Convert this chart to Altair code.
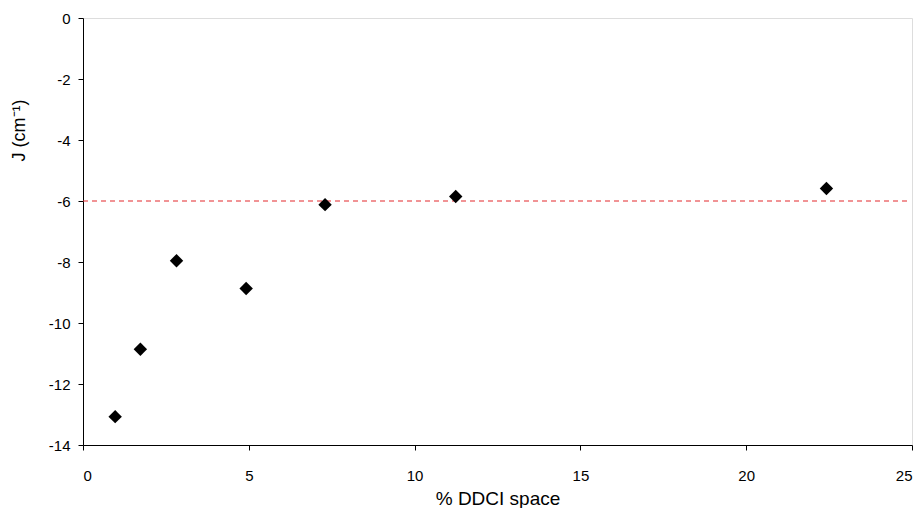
import altair as alt
import pandas as pd

ddci_pct = [0.97, 1.73, 2.82, 4.92, 7.30, 11.24, 22.42]
j_values = [-13.07, -10.86, -7.96, -8.87, -6.12, -5.85, -5.59]
ref_j = [-6.0]
ref_x_start = [0.0]
ref_x_end = [24.85]
x_ticks = [0, 5, 10, 15, 20, 25]
y_ticks = [0, -2, -4, -6, -8, -10, -12, -14]

pts = pd.DataFrame({"x": ddci_pct, "y": j_values})
ref = pd.DataFrame({"x": ref_x_start, "x2": ref_x_end, "y": ref_j})

FONT = "Liberation Sans"

xscale = alt.Scale(domain=[0, 25], nice=False, zero=False)
yscale = alt.Scale(domain=[-14, 0], nice=False, zero=False)

xaxis = alt.Axis(values=x_ticks, title="% DDCI space", grid=False,
                 domainColor="black", tickColor="black", tickSize=5,
                 labelFont=FONT, labelFontSize=15, labelColor="black",
                 labelPadding=18, titleFont=FONT, titleFontSize=19,
                 titleFontWeight="normal", titleColor="black", titlePadding=6,
                 labelExpr="'' + datum.value")
yaxis = alt.Axis(values=y_ticks, title="J (cm⁻¹)", grid=False,
                 domainColor="black", tickColor="black", tickSize=5,
                 labelFont=FONT, labelFontSize=15, labelColor="black",
                 labelPadding=8, titleFont=FONT, titleFontSize=18,
                 titleFontWeight="normal", titleColor="black",
                 titleX=-55, titleY=112, titleAlign="center", titleAngle=270,
                 labelExpr="'' + datum.value")

rule = alt.Chart(ref).mark_rule(color="#e3282c", strokeDash=[5, 4], strokeWidth=1.2).encode(
    x=alt.X("x:Q", scale=xscale, axis=xaxis),
    x2="x2:Q",
    y=alt.Y("y:Q", scale=yscale, axis=yaxis),
)

points = alt.Chart(pts).mark_point(shape="diamond", filled=True, color="black",
                                   size=180, opacity=1).encode(
    x=alt.X("x:Q", scale=xscale, axis=xaxis),
    y=alt.Y("y:Q", scale=yscale, axis=yaxis),
)

chart = alt.layer(rule, points).properties(
    width=829, height=427,
    autosize=alt.AutoSizeParams(type="none"),
    padding={"left": 75, "top": 10, "right": 4, "bottom": 65},
).configure_view(stroke=None).configure(background="white")

chart.save("out.html", embed_options={"renderer": "svg", "actions": False})
